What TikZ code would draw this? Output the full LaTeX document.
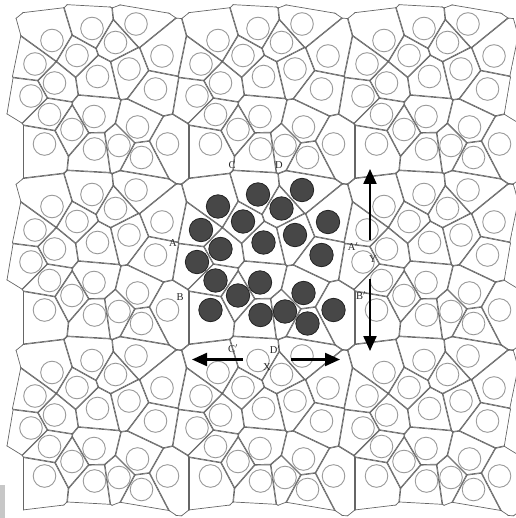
\documentclass[tikz,border=0pt]{standalone}
\usepackage{fontspec}
\setmainfont{Liberation Serif}
\usetikzlibrary{calc,arrows.meta}

% fibre centres of one periodic tile (centre tile, px)
\newcommand\fibrepts{258/194.5, 302/190, 218/206.5, 281.5/208.5, 243/221.5,
  328/222, 201/230, 295/235, 263.5/242.5, 220.5/249, 321.5/255, 197/262,
  215.5/280.5, 260/282.5, 238/295.5, 303.5/293, 210.5/310, 260.5/315,
  285/311.5, 307.5/323.5, 333.5/310}

\begin{document}
\begin{tikzpicture}[x=1pt,y=-1pt,
  wall/.style={draw=black!60,line width=1.4pt},
  fibre/.style={draw=black!40,line width=0.9pt,fill=white},
  fibredark/.style={draw=black!85,line width=0.8pt,fill=black!72},
  lbl/.style={font=\fontsize{10.5}{12}\selectfont,text=black!85,inner sep=0pt},
  period/.style={-{Triangle[length=15pt,width=13pt]},line width=2.2pt},
]
  \useasboundingbox (0,0) rectangle (515,518);
  \fill[black!22] (0,485) rectangle (5,518);

  % neighbours of every fibre (periodic images included)
  \foreach \ax/\ay [count=\i] in \fibrepts {
    \gdef\nblist{}
    \foreach \bx/\by in \fibrepts {
      \foreach \sx in {-166,0,166} {
        \foreach \sy in {-166,0,166} {
          \pgfmathsetmacro\dx{\bx+\sx-\ax}
          \pgfmathsetmacro\dy{\by+\sy-\ay}
          \pgfmathtruncatemacro\near{and((\dx/10)^2+(\dy/10)^2>0.01,(\dx/10)^2+(\dy/10)^2<72)}
          \ifnum\near=1 \xdef\nblist{\nblist\ifx\nblist\empty\else,\fi\dx/\dy}\fi
        }}}
    \expandafter\xdef\csname nb\i\endcsname{\nblist}
  }

  % Voronoi cells, tile repeated 3x3
  \foreach \tx in {-166,0,166} {
    \foreach \ty in {-166,0,166} {
      \foreach \ax/\ay [count=\i] in \fibrepts {
        \begin{scope}[shift={(\ax+\tx,\ay+\ty)}]
          \edef\nbs{\csname nb\i\endcsname}
          \foreach \dx/\dy in \nbs
            \clip ($(\dx/2,\dy/2)!2000pt!90:(\dx,\dy)$)
              -- ($(\dx/2,\dy/2)!2000pt!-90:(\dx,\dy)$)
              -- ($(\dx/2,\dy/2)!2000pt!180:(\dx,\dy)$) -- cycle;
          \foreach \dx/\dy in \nbs
            \draw[wall] ($(\dx/2,\dy/2)!2000pt!90:(\dx,\dy)$)
              -- ($(\dx/2,\dy/2)!2000pt!-90:(\dx,\dy)$);
        \end{scope}
      }}}

  % fibres
  \foreach \tx in {-166,0,166} {
    \foreach \ty in {-166,0,166} {
      \foreach \ax/\ay in \fibrepts
        \draw[fibre] (\ax+\tx,\ay+\ty) circle (11.3);
    }}
  \foreach \ax/\ay in \fibrepts
    \draw[fibredark] (\ax,\ay) circle (11.7);

  % boundary points
  \node[lbl] (c)  at (232,165) {C};
  \node[lbl] (d)  at (279,165) {D};
  \node[lbl] (a)  at (173,243) {A};
  \node[lbl] (b)  at (180,297) {B};
  \node[lbl] (a2) at (353,247) {A$'$};
  \node[lbl] (b2) at (361,296) {B$'$};
  \node[lbl] (c2) at (233,349) {C$'$};
  \node[lbl] (d2) at (275,350) {D$'$};

  % periods
  \node[lbl] (y) at (373,259) {Y};
  \node[lbl] (x) at (267,367) {X};
  \coordinate (yup)  at (370,240);
  \coordinate (ytop) at (370,169);
  \coordinate (ydn)  at (370,279);
  \coordinate (ybot) at (370,351);
  \coordinate (xlt)  at (243,359.5);
  \coordinate (xleft) at (192,359.5);
  \coordinate (xrt)  at (291,359.5);
  \coordinate (xright) at (340,359.5);
  \draw[period] (yup) -- (ytop);
  \draw[period] (ydn) -- (ybot);
  \draw[period] (xlt) -- (xleft);
  \draw[period] (xrt) -- (xright);
\end{tikzpicture}
\end{document}
